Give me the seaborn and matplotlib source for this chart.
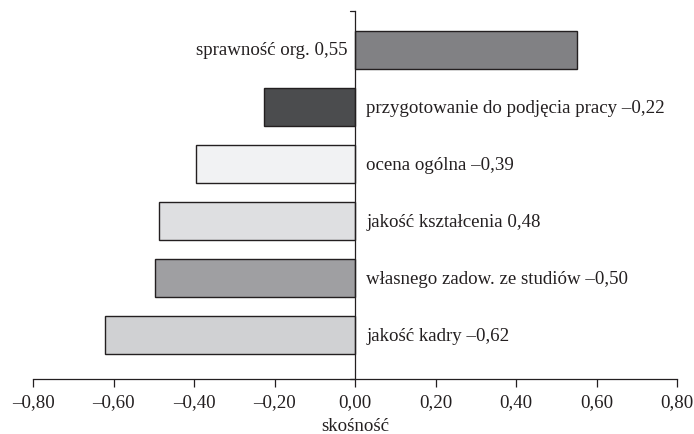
import numpy as np
import pandas as pd
import matplotlib.pyplot as plt
import seaborn as sns

# data
labels = [
    'sprawność org. 0,55',
    'przygotowanie do podjęcia pracy –0,22',
    'ocena ogólna –0,39',
    'jakość kształcenia 0,48',
    'własnego zadow. ze studiów –0,50',
    'jakość kadry –0,62',
]
values = [0.551, -0.225, -0.395, -0.486, -0.496, -0.622]
colors = ['#808184', '#4b4c4e', '#f1f2f3', '#dedfe1', '#9e9fa2', '#d0d1d3']
xticks = [-0.8, -0.6, -0.4, -0.2, 0.0, 0.2, 0.4, 0.6, 0.8]

df = pd.DataFrame({'label': labels, 'value': values})

sns.set_style('white')
plt.rcParams['font.family'] = ['Liberation Serif', 'DejaVu Serif']
text_col = '#231f20'
fs = 13.6

fig, ax = plt.subplots(figsize=(6.94, 4.35), dpi=100)
fig.subplots_adjust(left=0.0476, right=0.9755, top=0.972, bottom=0.126)

sns.barplot(data=df, x='value', y='label', hue='label', palette=colors,
            orient='h', width=0.67, edgecolor='#231f20', linewidth=1.0,
            legend=False, ax=ax)

ax.set_xlim(-0.8, 0.8)
ax.set_ylim(len(labels) - 1 + 0.77, -0.68)

# category labels beside the zero line
for i, (lab, val) in enumerate(zip(labels, values)):
    if val >= 0:
        ax.text(-0.018, i, lab, ha='right', va='center', fontsize=fs, color=text_col)
    else:
        ax.text(0.028, i, lab, ha='left', va='center', fontsize=fs, color=text_col)

def fmt(v):
    s = f'{abs(v):.2f}'.replace('.', ',')
    return ('–' + s) if v < -1e-9 else s

ax.set_xticks(xticks)
ax.set_xticklabels([fmt(v) for v in xticks], fontsize=fs, color=text_col)
ax.tick_params(axis='x', direction='out', length=6, width=0.9, color=text_col, pad=4, bottom=True)
ax.set_xlabel('skośność', fontsize=fs, color=text_col, labelpad=5)
ax.set_ylabel('')
ax.set_yticks([])

for s in ['top', 'right']:
    ax.spines[s].set_visible(False)
ax.spines['bottom'].set_color(text_col)
ax.spines['bottom'].set_linewidth(0.9)
ax.spines['left'].set_position(('data', 0))
ax.spines['left'].set_color(text_col)
ax.spines['left'].set_linewidth(0.9)

# small end ticks on the zero line
ylo, yhi = ax.get_ylim()
ax.plot([-0.012, 0], [yhi, yhi], color=text_col, lw=0.9, clip_on=False)
ax.plot([-0.012, 0], [ylo, ylo], color=text_col, lw=0.9, clip_on=False)

fig.savefig('out.png', dpi=100)
